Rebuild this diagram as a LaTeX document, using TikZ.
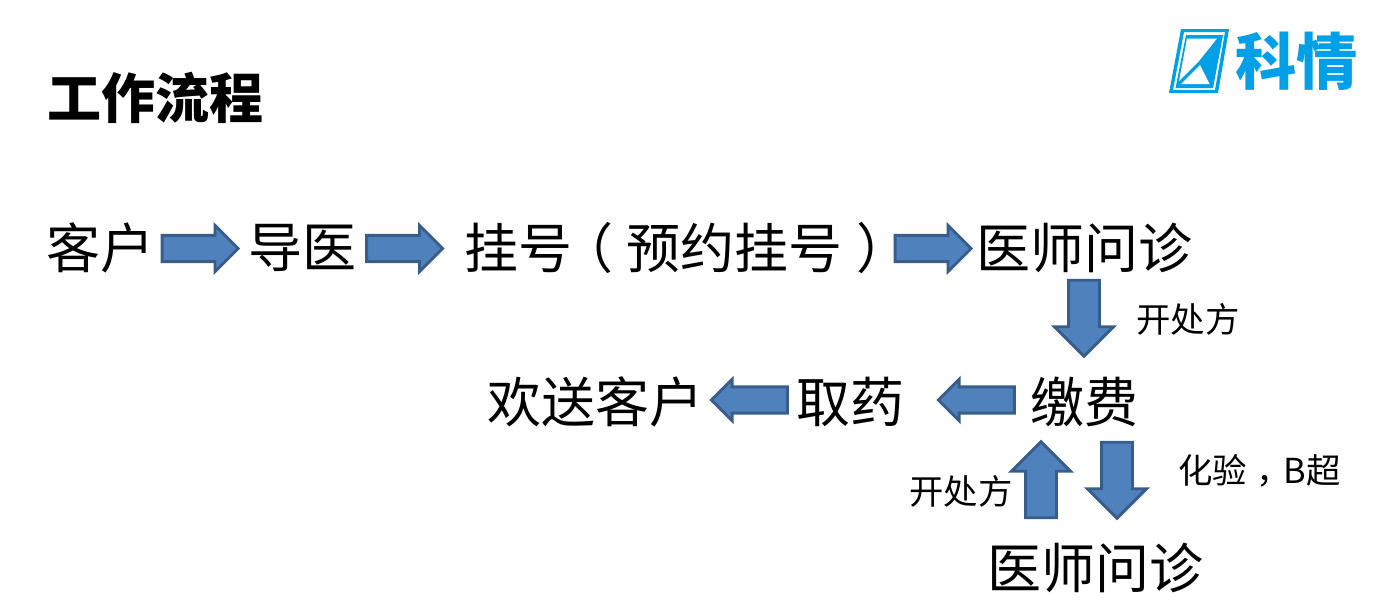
\documentclass[tikz,border=0pt]{standalone}
\usepackage{fontspec}
\setmainfont{Noto Sans CJK SC}
\usetikzlibrary{shapes.arrows}
\definecolor{arrowfill}{HTML}{4F81BD}
\definecolor{arrowline}{HTML}{385D8A}
\definecolor{logoblue}{HTML}{00A0E9}
\tikzset{
  bigtext/.style={inner sep=0,font=\fontsize{40.5}{41}\selectfont},
  smalltext/.style={inner sep=0,font=\fontsize{25.8}{26}\selectfont},
  titletext/.style={inner sep=0,font=\fontsize{40.5}{41}\selectfont\bfseries},
  logotext/.style={inner sep=0,text=logoblue,font=\fontsize{46}{46}\selectfont\bfseries},
  hblock/.style={single arrow,draw=arrowline,fill=arrowfill,line width=2.2pt,inner xsep=0,inner ysep=8.8pt,outer sep=0,
    minimum width=32.5pt,minimum height=57pt,single arrow head extend=7.45pt},
  lblock/.style={hblock,shape border rotate=180,minimum width=29pt,single arrow head extend=5.7pt},
  vblock/.style={single arrow,draw=arrowline,fill=arrowfill,line width=2.2pt,inner xsep=10.5pt,inner ysep=0,outer sep=0,
    minimum width=42pt,minimum height=57pt,single arrow head extend=10.5pt},
}
\begin{document}
\begin{tikzpicture}[x=0.75pt,y=-0.75pt]
  \useasboundingbox (0,0) rectangle (1385,614);
  \node[titletext,anchor=west] (title) at (47,98) {工作流程};
  % first row
  \node[bigtext,anchor=west] (kehu) at (46,248) {客户};
  \node[bigtext,anchor=west] (daoyi) at (248,248) {导医};
  \node[bigtext,anchor=west] (guahao) at (464,248) {挂号\kern-9.75pt（\kern9.75pt预约挂号\kern10.5pt）};
  \node[bigtext,anchor=west] (wenzhen) at (976,248) {医师问诊};
  % second row
  \node[bigtext,anchor=west] (songke) at (487,402) {欢送客户};
  \node[bigtext,anchor=west] (quyao) at (796,402) {取药};
  \node[bigtext,anchor=west] (jiaofei) at (1030,402) {缴费};
  \node[bigtext,anchor=west] (wenzhenb) at (987,568) {医师问诊};
  % labels
  \node[smalltext,anchor=west] (chufang) at (1136,319) {开处方};
  \node[smalltext,anchor=west] (chufangb) at (909,491) {开处方};
  \node[smalltext,anchor=west] (huayan) at (1178,471) {化验\kern6.75pt，\kern-5pt B超};
  % block arrows
  \foreach \n/\x in {ra/193.5,rb/398,rc/926.5} { \node[hblock] (\n) at (\x,248.5) {}; }
  \foreach \n/\x in {la/983,lb/756} { \node[lblock] (\n) at (\x,400) {}; }
  \node[vblock,shape border rotate=270] (da) at (1084,310.5) {};
  \node[vblock,shape border rotate=270] (db) at (1117,472.5) {};
  \node[vblock,shape border rotate=90] (ua) at (1041,487.5) {};
  % logo
  \fill[logoblue,even odd rule] (1181,29) -- (1229,29) -- (1218,93) -- (1169,93) -- cycle
    (1184,32) -- (1225,32) -- (1215,90) -- (1173,90) -- cycle;
  \fill[logoblue] (1186,35) -- (1223,35) -- (1213,88) -- (1175.5,88) -- cycle;
  \fill[white] (1187,38.5) -- (1217,38.5) -- (1199,61) -- (1179,81) -- cycle
    (1200,65) -- (1209.5,84) -- (1181,84) -- cycle;
  \node[logotext,anchor=west] (logo) at (1235,61) {科情};
\end{tikzpicture}
\end{document}
